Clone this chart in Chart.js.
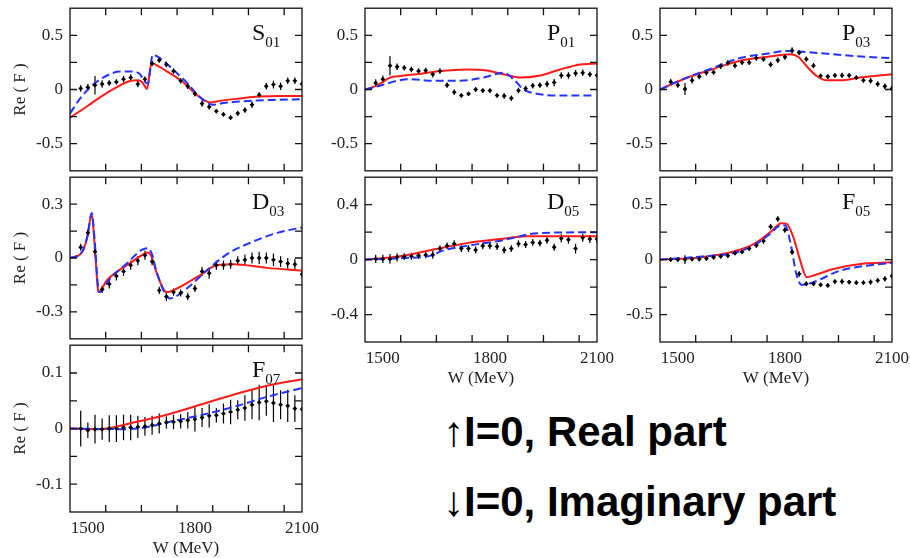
<!DOCTYPE html>
<html>
<head>
<meta charset="utf-8">
<title>Partial waves, I=0</title>
<script src="https://cdn.jsdelivr.net/npm/chart.js@4.4.0/dist/chart.umd.min.js"></script>
<style>
  body { margin: 0; background: #fff; width: 910px; height: 558px; overflow: hidden; position: relative; }
  .panel { position: absolute; }
  .note { position: absolute; left: 443px; font: bold 42px "Liberation Sans", Arial, sans-serif; line-height: 42px; color: #000; white-space: nowrap; }
</style>
</head>
<body>
<div class="panel" id="box-s01"><canvas id="s01"></canvas></div>
<div class="panel" id="box-p01"><canvas id="p01"></canvas></div>
<div class="panel" id="box-p03"><canvas id="p03"></canvas></div>
<div class="panel" id="box-d03"><canvas id="d03"></canvas></div>
<div class="panel" id="box-d05"><canvas id="d05"></canvas></div>
<div class="panel" id="box-f05"><canvas id="f05"></canvas></div>
<div class="panel" id="box-f07"><canvas id="f07"></canvas></div>
<div class="note" style="top: 411px">↑I=0, Real part</div>
<div class="note" style="top: 481px">↓I=0, Imaginary part</div>

<script>
// energies of the single-energy points (MeV)
const wData = [1480, 1500, 1520, 1540, 1560, 1580, 1600, 1620, 1640, 1660, 1680, 1700, 1720, 1740, 1760, 1780,
  1800, 1820, 1840, 1860, 1880, 1900, 1920, 1940, 1960, 1980, 2000, 2020, 2040, 2060, 2080, 2100]
const wTicks = [1500, 1800, 2100]

// S01
const s01Pts = [0.01, 0.02, 0.04, 0.05, 0.06, 0.07, 0.095, 0.11, 0.05, 0.095, 0.24, 0.27, 0.23, 0.17, 0.08, 0.03,
  -0.04, -0.13, -0.16, -0.2, -0.23, -0.26, -0.22, -0.19, -0.14, -0.05, 0.03, 0.045, 0.03, 0.08, 0.08, 0.05]
const s01Err = [0.03, 0.03, 0.085, 0.035, 0.025, 0.025, 0.03, 0.03, 0.03, 0.025, 0.025, 0.02, 0.025, 0.025, 0.025, 0.025,
  0.025, 0.03, 0.025, 0.02, 0.02, 0.02, 0.025, 0.025, 0.03, 0.025, 0.03, 0.035, 0.035, 0.03, 0.03, 0.025]
const s01Red = [[1450, -0.26], [1475, -0.205], [1500, -0.15], [1535, -0.07], [1580, 0.02], [1620, 0.08], [1640, 0.085],
  [1653, 0.065], [1666, 0.005], [1678, 0.245], [1700, 0.21], [1720, 0.17], [1768, 0.065], [1805, -0.05], [1843, -0.12],
  [1870, -0.105], [1920, -0.085], [1980, -0.065], [2040, -0.06], [2100, -0.06]]
const s01Blue = [[1450, -0.22], [1478, -0.085], [1506, 0.02], [1543, 0.11], [1590, 0.165], [1628, 0.165], [1646, 0.14],
  [1660, 0.07], [1668, 0.055], [1682, 0.32], [1702, 0.29], [1740, 0.18], [1777, 0.065], [1805, -0.04], [1833, -0.12],
  [1850, -0.14], [1880, -0.125], [1950, -0.105], [2030, -0.095], [2100, -0.09]]

// P01
const p01Pts = [0.06, 0.095, 0.22, 0.21, 0.2, 0.185, 0.17, 0.175, 0.14, 0.17, 0.04, -0.025, -0.055, -0.04, 0, -0.01,
  -0.01, -0.055, -0.06, -0.08, -0.01, 0.01, 0.035, 0.04, 0.05, 0.065, 0.13, 0.13, 0.15, 0.155, 0.14, 0.13]
const p01Err = [0.035, 0.035, 0.09, 0.03, 0.025, 0.025, 0.025, 0.025, 0.03, 0.025, 0.025, 0.025, 0.02, 0.02, 0.02, 0.02,
  0.02, 0.02, 0.025, 0.025, 0.025, 0.025, 0.025, 0.025, 0.03, 0.035, 0.03, 0.03, 0.03, 0.03, 0.025, 0.02]
const p01Red = [[1450, 0], [1483, 0.035], [1520, 0.11], [1548, 0.125], [1595, 0.14], [1660, 0.17], [1735, 0.185],
  [1791, 0.175], [1838, 0.14], [1885, 0.11], [1941, 0.13], [1997, 0.185], [2053, 0.23], [2100, 0.24]]
const p01Blue = [[1450, 0], [1492, 0.035], [1539, 0.08], [1576, 0.095], [1642, 0.08], [1716, 0.08], [1782, 0.11],
  [1838, 0.155], [1866, 0.095], [1894, 0], [1931, -0.04], [1997, -0.055], [2090, -0.055]]

// P03
const p03Pts = [0.07, 0.04, 0.005, 0.085, 0.12, 0.155, 0.16, 0.215, 0.245, 0.22, 0.25, 0.25, 0.29, 0.28, 0.23, 0.27,
  0.3, 0.36, 0.34, 0.28, 0.22, 0.125, 0.12, 0.13, 0.13, 0.13, 0.11, 0.085, 0.08, 0.05, 0.03, 0.01]
const p03Err = [0.03, 0.025, 0.055, 0.03, 0.025, 0.025, 0.025, 0.025, 0.025, 0.025, 0.025, 0.025, 0.025, 0.025, 0.025, 0.025,
  0.025, 0.03, 0.025, 0.025, 0.025, 0.02, 0.02, 0.02, 0.025, 0.02, 0.02, 0.025, 0.025, 0.025, 0.025, 0.02]
const p03Red = [[1450, 0], [1515, 0.095], [1600, 0.19], [1674, 0.265], [1749, 0.3], [1815, 0.325], [1838, 0.3],
  [1861, 0.215], [1889, 0.125], [1918, 0.085], [1955, 0.085], [2011, 0.11], [2100, 0.14]]
const p03Blue = [[1450, 0], [1525, 0.11], [1600, 0.2], [1674, 0.29], [1749, 0.33], [1805, 0.355], [1861, 0.345],
  [1936, 0.325], [2030, 0.3], [2100, 0.29]]

// D03
const d03Pts = [0.06, 0.14, 0.035, -0.175, -0.145, -0.1, -0.075, -0.04, -0.015, 0.015, -0.02, -0.18, -0.215, -0.19, -0.195, -0.215,
  -0.17, -0.075, -0.085, -0.04, -0.04, -0.035, -0.015, -0.01, 0, 0, 0, -0.01, -0.02, -0.03, -0.035, -0.09]
const d03Err = [0.02, 0.02, 0.025, 0.02, 0.025, 0.025, 0.025, 0.025, 0.025, 0.025, 0.02, 0.02, 0.025, 0.02, 0.02, 0.02,
  0.02, 0.025, 0.03, 0.025, 0.025, 0.025, 0.025, 0.03, 0.03, 0.035, 0.03, 0.035, 0.03, 0.03, 0.03, 0.02]
const d03Red = [[1450, 0], [1478, 0.02], [1488, 0.05], [1499, 0.12], [1511, 0.245], [1518, 0.1], [1528, -0.17], [1531, -0.19],
  [1553, -0.125], [1590, -0.065], [1628, -0.015], [1660, 0.025], [1668, 0.03], [1679, 0.005], [1693, -0.085], [1721, -0.19],
  [1759, -0.16], [1815, -0.095], [1861, -0.04], [1908, -0.035], [2002, -0.055], [2100, -0.07]]
const d03Blue = [[1450, 0], [1478, 0.02], [1488, 0.05], [1499, 0.125], [1511, 0.25], [1519, 0.1], [1529, -0.17], [1532, -0.19],
  [1562, -0.115], [1609, -0.03], [1651, 0.045], [1668, 0.055], [1680, 0.02], [1693, -0.08], [1730, -0.225], [1777, -0.17],
  [1833, -0.07], [1889, 0.02], [1955, 0.085], [2030, 0.14], [2100, 0.17]]

// D05
const d05Pts = [0.005, 0.005, 0.005, 0.017, 0.022, 0.024, 0.03, 0.034, 0.036, 0.08, 0.1, 0.115, 0.08, 0.08, 0.07, 0.1,
  0.1, 0.095, 0.07, 0.08, 0.115, 0.11, 0.125, 0.12, 0.14, 0.09, 0.155, 0.145, 0.08, 0.16, 0.15, 0.15]
const d05Err = [0.03, 0.03, 0.035, 0.03, 0.025, 0.025, 0.025, 0.025, 0.03, 0.025, 0.025, 0.025, 0.025, 0.025, 0.025, 0.025,
  0.025, 0.025, 0.025, 0.025, 0.025, 0.025, 0.025, 0.025, 0.025, 0.025, 0.03, 0.03, 0.035, 0.03, 0.03, 0.03]
const d05Red = [[1450, 0], [1548, 0.024], [1642, 0.073], [1735, 0.12], [1829, 0.15], [1903, 0.17], [2100, 0.17]]
const d05Blue = [[1450, 0], [1548, 0.01], [1642, 0.034], [1660, 0.058], [1735, 0.1], [1829, 0.138], [1885, 0.17],
  [1922, 0.19], [2100, 0.2]]

// F05
const f05Pts = [0, 0, 0, 0.005, 0.005, 0.01, 0.02, 0.03, 0.035, 0.06, 0.07, 0.1, 0.13, 0.17, 0.3, 0.37,
  0.27, 0.07, -0.13, -0.22, -0.22, -0.23, -0.235, -0.2, -0.2, -0.205, -0.21, -0.21, -0.205, -0.19, -0.175, -0.15]
const f05Err = [0.02, 0.02, 0.04, 0.02, 0.02, 0.02, 0.02, 0.02, 0.02, 0.02, 0.02, 0.02, 0.025, 0.025, 0.025, 0.025,
  0.025, 0.025, 0.025, 0.02, 0.02, 0.02, 0.02, 0.02, 0.025, 0.02, 0.02, 0.02, 0.025, 0.02, 0.025, 0.02]
const f05Red = [[1450, 0], [1562, 0.02], [1656, 0.073], [1712, 0.14], [1759, 0.25], [1791, 0.33], [1805, 0.325],
  [1824, 0.2], [1843, -0.01], [1861, -0.16], [1880, -0.145], [1936, -0.085], [2011, -0.04], [2100, -0.025]]
const f05Blue = [[1450, 0], [1562, 0.027], [1656, 0.06], [1712, 0.127], [1759, 0.235], [1787, 0.31], [1801, 0.31],
  [1815, 0.16], [1833, -0.145], [1847, -0.23], [1880, -0.205], [1955, -0.1], [2030, -0.055], [2100, -0.03]]

// F07
const f07Pts = [0, -0.003, -0.001, -0.001, 0, 0, 0.002, 0.002, 0.003, 0.004, 0.006, 0.009, 0.011, 0.012, 0.013, 0.015,
  0.017, 0.02, 0.023, 0.024, 0.027, 0.03, 0.034, 0.037, 0.043, 0.047, 0.049, 0.046, 0.043, 0.041, 0.036, 0.035]
const f07Err = [0.032, 0.014, 0.026, 0.019, 0.024, 0.024, 0.023, 0.023, 0.02, 0.017, 0.017, 0.018, 0.011, 0.013, 0.013, 0.015,
  0.022, 0.017, 0.021, 0.013, 0.018, 0.022, 0.017, 0.023, 0.026, 0.032, 0.026, 0.034, 0.026, 0.029, 0.024, 0.004]
const f07Red = [[1450, 0], [1534, -0.001], [1628, 0.011], [1721, 0.025], [1815, 0.043], [1908, 0.061], [2002, 0.077], [2100, 0.089]]
const f07Blue = [[1450, 0], [1600, -0.001], [1660, 0.002], [1721, 0.011], [1815, 0.024], [1908, 0.039], [2002, 0.057], [2100, 0.073]]

const SERIF = '"Liberation Serif", "Times New Roman", serif'
const TICK = 7

// inward tick marks between min and max (ends excluded)
function innerSteps (min, max, step) {
  const out = []
  const n = Math.round((max - min) / step)
  for (let i = 1; i < n; i++) out.push(+(min + i * step).toFixed(6))
  return out
}

// frame with inward ticks on all four sides + the wave label in the corner
const panelFrame = {
  id: 'panelFrame',
  afterDraw (chart, args, opts) {
    const { ctx, chartArea: a, scales: { x, y } } = chart
    ctx.save()
    ctx.strokeStyle = '#111'
    ctx.lineWidth = 1.3
    ctx.strokeRect(a.left, a.top, a.right - a.left, a.bottom - a.top)
    ctx.beginPath()
    innerSteps(x.min, x.max, 100).forEach(v => {
      const px = x.getPixelForValue(v)
      ctx.moveTo(px, a.top); ctx.lineTo(px, a.top + TICK)
      ctx.moveTo(px, a.bottom); ctx.lineTo(px, a.bottom - TICK)
    })
    innerSteps(y.min, y.max, opts.yMinor).forEach(v => {
      const py = y.getPixelForValue(v)
      ctx.moveTo(a.left, py); ctx.lineTo(a.left + TICK, py)
      ctx.moveTo(a.right, py); ctx.lineTo(a.right - TICK, py)
    })
    ctx.stroke()

    ctx.fillStyle = '#111'
    ctx.textBaseline = 'alphabetic'
    ctx.font = '24px ' + SERIF
    const lx = a.right - 50
    const ly = a.top + 32
    ctx.fillText(opts.name, lx, ly)
    const w = ctx.measureText(opts.name).width
    ctx.font = '15px ' + SERIF
    ctx.fillText(opts.sub, lx + w, ly + 7)
    ctx.restore()
  }
}

// vertical error bars for datasets that carry an `errors` array
const errorBars = {
  id: 'errorBars',
  beforeDatasetsDraw (chart) {
    const { ctx, chartArea: a, scales: { x, y } } = chart
    chart.data.datasets.forEach(ds => {
      if (!ds.errors) return
      ctx.save()
      ctx.beginPath()
      ctx.rect(a.left, a.top, a.right - a.left, a.bottom - a.top)
      ctx.clip()
      ctx.strokeStyle = '#000'
      ctx.lineWidth = 1.2
      ctx.beginPath()
      ds.data.forEach((p, j) => {
        const px = x.getPixelForValue(p.x)
        ctx.moveTo(px, y.getPixelForValue(p.y + ds.errors[j]))
        ctx.lineTo(px, y.getPixelForValue(p.y - ds.errors[j]))
      })
      ctx.stroke()
      ctx.restore()
    })
  }
}

const toXY = pairs => pairs.map(([x, y]) => ({ x, y }))

const panels = [
  { id: 's01', name: 'S', sub: '01', col: 0, row: 0, yMax: 0.75, yMinor: 0.25, yTicks: [-0.5, 0, 0.5], pts: s01Pts, err: s01Err, red: s01Red, blue: s01Blue },
  { id: 'p01', name: 'P', sub: '01', col: 1, row: 0, yMax: 0.75, yMinor: 0.25, yTicks: [-0.5, 0, 0.5], pts: p01Pts, err: p01Err, red: p01Red, blue: p01Blue },
  { id: 'p03', name: 'P', sub: '03', col: 2, row: 0, yMax: 0.75, yMinor: 0.25, yTicks: [-0.5, 0, 0.5], pts: p03Pts, err: p03Err, red: p03Red, blue: p03Blue },
  { id: 'd03', name: 'D', sub: '03', col: 0, row: 1, yMax: 0.45, yMinor: 0.15, yTicks: [-0.3, 0, 0.3], pts: d03Pts, err: d03Err, red: d03Red, blue: d03Blue },
  { id: 'd05', name: 'D', sub: '05', col: 1, row: 1, yMax: 0.6, yMinor: 0.2, yTicks: [-0.4, 0, 0.4], pts: d05Pts, err: d05Err, red: d05Red, blue: d05Blue, xAxis: true },
  { id: 'f05', name: 'F', sub: '05', col: 2, row: 1, yMax: 0.75, yMinor: 0.25, yTicks: [-0.5, 0, 0.5], pts: f05Pts, err: f05Err, red: f05Red, blue: f05Blue, xAxis: true },
  { id: 'f07', name: 'F', sub: '07', col: 0, row: 2, yMax: 0.15, yMinor: 0.05, yTicks: [-0.1, 0, 0.1], pts: f07Pts, err: f07Err, red: f07Red, blue: f07Blue, xAxis: true }
]

const colLeft = [70, 365, 660]
const rowTop = [5, 174, 342]
const rowHeight = [169, 168, 170]
const PLOT_W = 232
const PAD_R = 25
const PAD_T = 14
const X_AXIS_H = 50

panels.forEach(p => {
  const padL = p.col === 0 ? 70 : 60
  const padB = p.xAxis ? X_AXIS_H : 14
  const box = document.getElementById('box-' + p.id)
  box.style.left = (colLeft[p.col] - padL) + 'px'
  box.style.top = (rowTop[p.row] - PAD_T) + 'px'
  box.style.width = (padL + PLOT_W + PAD_R) + 'px'
  box.style.height = (PAD_T + rowHeight[p.row] + padB) + 'px'

  new Chart(document.getElementById(p.id), {
    type: 'scatter',
    data: {
      datasets: [
        {
          data: wData.map((w, i) => ({ x: w, y: p.pts[i] })),
          errors: p.err,
          pointStyle: 'rectRot',
          pointRadius: 2.4,
          backgroundColor: '#000',
          borderWidth: 0
        },
        {
          data: toXY(p.blue),
          showLine: true,
          pointRadius: 0,
          borderColor: '#2233ff',
          borderWidth: 2,
          borderDash: [8, 4],
          tension: 0.4,
          cubicInterpolationMode: 'monotone'
        },
        {
          data: toXY(p.red),
          showLine: true,
          pointRadius: 0,
          borderColor: '#ff1a1a',
          borderWidth: 2,
          tension: 0.4,
          cubicInterpolationMode: 'monotone'
        }
      ]
    },
    options: {
      responsive: true,
      maintainAspectRatio: false,
      animation: false,
      events: [],
      layout: { padding: { left: 0, right: PAD_R, top: PAD_T, bottom: p.xAxis ? 0 : padB } },
      plugins: {
        legend: { display: false },
        tooltip: { enabled: false },
        panelFrame: { name: p.name, sub: p.sub, yMinor: p.yMinor }
      },
      scales: {
        x: {
          type: 'linear',
          min: 1450,
          max: 2100,
          display: !!p.xAxis,
          grid: { display: false, drawTicks: false },
          border: { display: false },
          afterBuildTicks: axis => { axis.ticks = wTicks.map(v => ({ value: v })) },
          afterFit: axis => { axis.height = p.xAxis ? X_AXIS_H : 0 },
          ticks: { color: '#222', font: { family: SERIF, size: 17 }, padding: 6, maxRotation: 0, autoSkip: false, callback: v => String(v) },
          title: { display: true, text: 'W (MeV)', color: '#222', font: { family: SERIF, size: 17 }, padding: { top: 0, bottom: 3 } }
        },
        y: {
          type: 'linear',
          min: -p.yMax,
          max: p.yMax,
          grid: { display: false, drawTicks: false },
          border: { display: false },
          afterBuildTicks: axis => { axis.ticks = p.yTicks.map(v => ({ value: v })) },
          afterFit: axis => { axis.width = padL },
          ticks: { color: '#222', font: { family: SERIF, size: 17 }, padding: 7, callback: v => String(v) },
          title: { display: p.col === 0, text: 'Re ( F )', color: '#222', font: { family: SERIF, size: 17 }, padding: { top: 10, bottom: 0 } }
        }
      }
    },
    plugins: [errorBars, panelFrame]
  })
})
</script>
</body>
</html>
